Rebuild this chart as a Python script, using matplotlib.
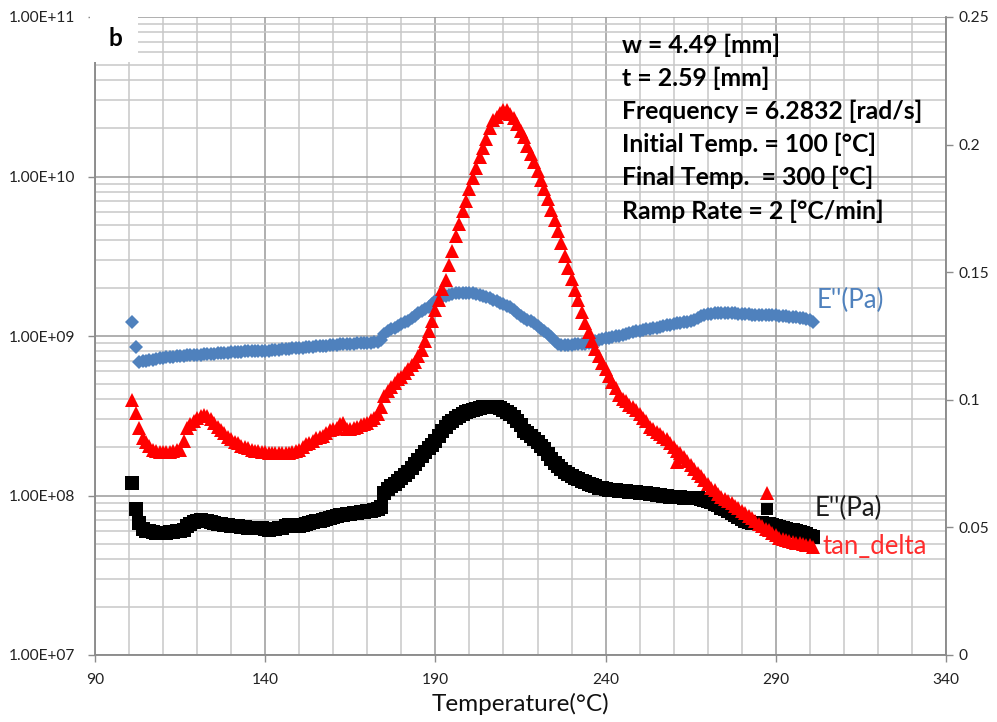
import matplotlib
matplotlib.use("Agg")
import matplotlib.pyplot as plt
from matplotlib.ticker import MultipleLocator, LogLocator, FuncFormatter, FixedLocator, NullFormatter
from matplotlib.patches import Rectangle

plt.rcParams['font.family'] = ['Lato', 'DejaVu Sans']

# ---------------- data ----------------
temperature = [101, 102, 103, 104, 105, 106, 107, 108, 109, 110,
               111, 112, 113, 114, 115, 116, 117, 118, 119, 120,
               121, 122, 123, 124, 125, 126, 127, 128, 129, 130,
               131, 132, 133, 134, 135, 136, 137, 138, 139, 140,
               141, 142, 143, 144, 145, 146, 147, 148, 149, 150,
               151, 152, 153, 154, 155, 156, 157, 158, 159, 160,
               161, 162, 163, 164, 165, 166, 167, 168, 169, 170,
               171, 172, 173, 174, 175, 176, 177, 178, 179, 180,
               181, 182, 183, 184, 185, 186, 187, 188, 189, 190,
               191, 192, 193, 194, 195, 196, 197, 198, 199, 200,
               201, 202, 203, 204, 205, 206, 207, 208, 209, 210,
               211, 212, 213, 214, 215, 216, 217, 218, 219, 220,
               221, 222, 223, 224, 225, 226, 227, 228, 229, 230,
               231, 232, 233, 234, 235, 236, 237, 238, 239, 240,
               241, 242, 243, 244, 245, 246, 247, 248, 249, 250,
               251, 252, 253, 254, 255, 256, 257, 258, 259, 260,
               261, 262, 263, 264, 265, 266, 267, 268, 269, 270,
               271, 272, 273, 274, 275, 276, 277, 278, 279, 280,
               281, 282, 283, 284, 285, 286, 287, 288, 289, 290,
               291, 292, 293, 294, 295, 296, 297, 298, 299, 300,
               301]

# blue series (E' shown as "E''(Pa)"), in units of 1e8 Pa
e_blue_1e8 = [12.2, 8.5, 6.9, 6.95, 7.0, 7.05, 7.1, 7.2, 7.25, 7.3,
              7.35, 7.35, 7.4, 7.45, 7.5, 7.5, 7.55, 7.6, 7.6, 7.65,
              7.65, 7.7, 7.7, 7.75, 7.75, 7.8, 7.8, 7.85, 7.85, 7.9,
              7.9, 7.95, 7.95, 8.0, 8.0, 8.0, 8.05, 8.05, 8.1, 8.1,
              8.1, 8.15, 8.15, 8.2, 8.25, 8.3, 8.3, 8.35, 8.4, 8.4,
              8.45, 8.5, 8.5, 8.55, 8.6, 8.6, 8.65, 8.7, 8.75, 8.75,
              8.8, 8.85, 8.85, 8.9, 8.9, 8.95, 9.0, 9.0, 9.05, 9.1,
              9.1, 9.15, 9.2, 9.4, 10.3, 10.8, 11.1, 11.3, 11.6, 11.9,
              12.2, 12.5, 12.9, 13.4, 13.9, 14.4, 14.8, 15.2, 15.8, 16.6,
              17.2, 17.6, 17.9, 18.2, 18.4, 18.5, 18.6, 18.6, 18.6, 18.6,
              18.5, 18.3, 18.1, 17.8, 17.5, 17.2, 16.9, 16.6, 16.2, 15.8,
              15.4, 15.1, 14.6, 14.0, 13.4, 12.9, 12.6, 12.4, 12.0, 11.5,
              11.1, 10.7, 10.3, 9.8, 9.3, 8.9, 8.8, 8.75, 8.8, 8.8,
              8.85, 8.85, 8.9, 8.9, 9.0, 9.1, 9.25, 9.4, 9.55, 9.65,
              9.75, 9.85, 9.95, 10.05, 10.15, 10.3, 10.45, 10.6, 10.7, 10.8,
              10.9, 11.0, 11.1, 11.2, 11.3, 11.4, 11.5, 11.65, 11.8, 11.9,
              12.0, 12.1, 12.2, 12.3, 12.4, 12.6, 12.9, 13.3, 13.6, 13.75,
              13.8, 13.85, 13.85, 13.9, 13.9, 13.9, 13.9, 13.85, 13.8, 13.75,
              13.7, 13.65, 13.6, 13.6, 13.6, 13.55, 13.5, 13.5, 13.5, 13.45,
              13.4, 13.35, 13.3, 13.25, 13.2, 13.1, 13.0, 12.9, 12.8, 12.6,
              12.3]

# black series E'' in units of 1e7 Pa
e_black_1e7 = [12.0, 8.2, 6.7, 6.2, 6.0, 5.95, 5.9, 5.85, 5.85, 5.85,
               5.85, 5.9, 5.9, 5.95, 6.0, 6.1, 6.4, 6.6, 6.8, 6.95,
               7.0, 6.95, 6.9, 6.8, 6.7, 6.65, 6.6, 6.55, 6.5, 6.45,
               6.4, 6.4, 6.35, 6.35, 6.3, 6.3, 6.3, 6.3, 6.25, 6.2,
               6.1, 6.15, 6.2, 6.3, 6.3, 6.4, 6.5, 6.45, 6.4, 6.4,
               6.5, 6.6, 6.7, 6.8, 6.9, 6.95, 7.0, 7.1, 7.2, 7.3,
               7.4, 7.5, 7.6, 7.65, 7.7, 7.75, 7.8, 7.85, 7.9, 7.95,
               8.0, 8.1, 8.2, 8.5, 10.3, 11.0, 11.4, 11.8, 12.3, 12.9,
               13.4, 14.0, 14.8, 15.8, 16.8, 17.8, 18.8, 19.8, 20.8, 22.0,
               23.5, 25.5, 27.0, 28.5, 29.5, 30.5, 31.5, 32.5, 33.3, 34.0,
               34.5, 35.0, 35.4, 35.8, 36.0, 36.0, 36.0, 35.7, 35.2, 34.5,
               33.5, 32.5, 31.0, 29.5, 27.5, 25.5, 24.5, 23.5, 22.5, 21.5,
               20.5, 19.5, 18.3, 17.0, 16.0, 15.3, 14.7, 14.1, 13.6, 13.2,
               12.9, 12.6, 12.4, 12.1, 11.8, 11.6, 11.4, 11.2, 11.1, 11.0,
               10.9, 10.8, 10.75, 10.7, 10.65, 10.6, 10.55, 10.5, 10.45, 10.4,
               10.35, 10.3, 10.2, 10.15, 10.1, 10.05, 10.0, 9.9, 9.85, 9.8,
               9.8, 9.75, 9.7, 9.7, 9.65, 9.6, 9.6, 9.5, 9.4, 9.3,
               9.1, 8.9, 8.7, 8.4, 8.2, 8.0, 7.8, 7.6, 7.35, 7.1,
               6.9, 6.8, 6.75, 6.75, 6.7, 6.7, 6.65, 6.6, 6.5, 6.4,
               6.35, 6.3, 6.2, 6.1, 6.05, 6.0, 5.9, 5.8, 5.7, 5.6,
               5.5]

tan_delta = [0.0999, 0.095, 0.089, 0.085, 0.0835, 0.082, 0.0805, 0.080, 0.0795, 0.0795,
             0.0795, 0.0795, 0.080, 0.0805, 0.0805, 0.084, 0.089, 0.0905, 0.0915, 0.093,
             0.0935, 0.094, 0.0935, 0.0925, 0.091, 0.0895, 0.088, 0.087, 0.0855, 0.0845,
             0.0835, 0.083, 0.082, 0.0815, 0.081, 0.0805, 0.080, 0.080, 0.0795, 0.0795,
             0.079, 0.079, 0.079, 0.079, 0.0792, 0.079, 0.0792, 0.0795, 0.080, 0.0805,
             0.0815, 0.0825, 0.083, 0.084, 0.085, 0.0855, 0.086, 0.087, 0.088, 0.0885,
             0.089, 0.0905, 0.091, 0.0885, 0.0885, 0.089, 0.0895, 0.090, 0.0905, 0.091,
             0.092, 0.093, 0.0945, 0.097, 0.1015, 0.1035, 0.105, 0.1065, 0.108, 0.109,
             0.1105, 0.112, 0.1135, 0.115, 0.117, 0.1195, 0.123, 0.127, 0.131, 0.135,
             0.139, 0.1435, 0.147, 0.153, 0.1585, 0.164, 0.169, 0.174, 0.178, 0.1825,
             0.187, 0.191, 0.195, 0.1985, 0.202, 0.2065, 0.2095, 0.211, 0.2125, 0.2135,
             0.2135, 0.212, 0.2105, 0.208, 0.2055, 0.203, 0.1995, 0.1965, 0.193, 0.1895,
             0.186, 0.1825, 0.1785, 0.1745, 0.1705, 0.166, 0.1615, 0.1565, 0.1515, 0.1475,
             0.143, 0.139, 0.1345, 0.130, 0.1265, 0.123, 0.120, 0.117, 0.1145, 0.112,
             0.1095, 0.107, 0.1045, 0.102, 0.1005, 0.0995, 0.098, 0.097, 0.096, 0.0945,
             0.093, 0.0915, 0.0895, 0.0885, 0.0875, 0.0865, 0.0855, 0.0845, 0.083, 0.0815,
             0.080, 0.079, 0.0775, 0.076, 0.0745, 0.073, 0.0715, 0.070, 0.0685, 0.067,
             0.0655, 0.0645, 0.063, 0.062, 0.061, 0.0605, 0.0595, 0.0585, 0.0575, 0.0565,
             0.0555, 0.0545, 0.0535, 0.0525, 0.0515, 0.0505, 0.0495, 0.049, 0.048, 0.047,
             0.046, 0.0455, 0.045, 0.0445, 0.0442, 0.044, 0.0437, 0.0434, 0.0432, 0.043,
             0.0425]

# stray points
black_extra_t = [287.5]
black_extra_1e7 = [8.2]
red_extra_t = [261, 287.5]
red_extra_v = [0.0756, 0.0635]

x_ticks = [90, 140, 190, 240, 290, 340]
right_ticks = [0, 0.05, 0.1, 0.15, 0.2, 0.25]

info_lines = ["w = 4.49 [mm]", "t = 2.59 [mm]", "Frequency = 6.2832 [rad/s]",
              "Initial Temp. = 100 [°C]", "Final Temp.  = 300 [°C]", "Ramp Rate = 2 [°C/min]"]

# ---------------- figure ----------------
W, H = 997, 722
fig = plt.figure(figsize=(W / 100, H / 100), dpi=100)
L, R, T, B = 95, 946, 17, 655
ax = fig.add_axes([L / W, 1 - B / H, (R - L) / W, (B - T) / H])
ax2 = ax.twinx()

blue = '#4F81BD'
ax.plot(temperature, [v * 1e8 for v in e_blue_1e8], linestyle='none', marker='D',
        markersize=7.3, color=blue, markeredgewidth=0, zorder=3)
ax.plot(temperature, [v * 1e7 for v in e_black_1e7], linestyle='none', marker='s',
        markersize=9.8, color='black', markeredgewidth=0, zorder=3)
ax.plot(black_extra_t, [v * 1e7 for v in black_extra_1e7], linestyle='none', marker='s',
        markersize=9, color='black', markeredgewidth=0, zorder=3)
ax2.plot(temperature, tan_delta, linestyle='none', marker='^', markersize=10,
         color='#FF0000', markeredgewidth=0, zorder=3)
ax2.plot(red_extra_t, red_extra_v, linestyle='none', marker='^', markersize=9.5,
         color='#FF0000', markeredgewidth=0, zorder=3)

ax.set_yscale('log')
ax.set_ylim(1e7, 1e11)
ax.set_xlim(90, 340)
ax2.set_ylim(0, 0.25)

ax.xaxis.set_major_locator(FixedLocator(x_ticks))
ax.xaxis.set_minor_locator(MultipleLocator(10))
ax.yaxis.set_major_locator(LogLocator(base=10, numticks=10))
ax.yaxis.set_minor_locator(LogLocator(base=10, subs=[2, 3, 4, 5, 6, 7, 8, 9], numticks=20))
ax.yaxis.set_minor_formatter(NullFormatter())
ax.yaxis.set_major_formatter(FuncFormatter(lambda v, p: f"{v:.2E}"))
ax2.yaxis.set_major_locator(FixedLocator(right_ticks))
ax2.yaxis.set_major_formatter(FuncFormatter(lambda v, p: f"{v:g}"))

major_c = '#9a9a9a'
minor_c = '#c8c8c8'
ax.grid(True, which='major', axis='both', color=major_c, linewidth=1.1)
ax.grid(True, which='minor', axis='both', color=minor_c, linewidth=1.1)
ax.set_axisbelow(True)

tick_font = 11.2
ax.tick_params(axis='both', which='major', direction='out', length=5, width=1,
               color='#8c8c8c', labelsize=tick_font, labelcolor='#222222')
ax.tick_params(axis='y', which='major', pad=9)
ax.tick_params(axis='x', which='major', pad=8)
ax.tick_params(which='minor', length=0)
ax2.tick_params(axis='y', which='major', direction='out', length=5, width=1,
                color='#8c8c8c', labelsize=tick_font, labelcolor='#222222', pad=4)

for a in (ax, ax2):
    a.spines['top'].set_visible(False)
    for s in ('left', 'right', 'bottom'):
        a.spines[s].set_color('#8c8c8c')
        a.spines[s].set_linewidth(1.1)

ax.set_xlabel("Temperature(°C)", fontsize=17.5, color='#111111', labelpad=4)

# series labels
ax.text(302, 1.68e9, "E''(Pa)", color=blue, fontsize=18.5, va='center', ha='left')
ax.text(301.5, 8.35e7, "E''(Pa)", color='#1a1a1a', fontsize=18.5, va='center', ha='left')
ax2.text(303.8, 0.0427, "tan_delta", color='#FF2D2D', fontsize=18.5, va='center', ha='left')

# info block
y0 = 45
for i, line in enumerate(info_lines):
    fig.text(622 / W, 1 - (y0 + i * 33.2) / H, line, fontsize=17.8, fontweight='bold',
             ha='left', va='center', color='black')

# panel label with white box
fig.patches.append(Rectangle((90 / W, 1 - 62 / H), 48 / W, 62 / H, transform=fig.transFigure,
                             facecolor='white', edgecolor='none', zorder=5))
fig.text(115 / W, 1 - 38 / H, "b", fontsize=17.5, fontweight='bold', ha='center', va='center',
         zorder=6)

fig.savefig("out.png", dpi=100)
